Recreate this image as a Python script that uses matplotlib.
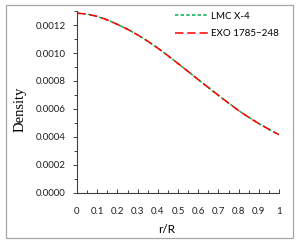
import matplotlib
matplotlib.use("Agg")
import matplotlib.pyplot as plt
from matplotlib.ticker import MultipleLocator, FormatStrFormatter
from matplotlib.patches import Rectangle

r = [0.0, 0.05, 0.1, 0.15, 0.2, 0.25, 0.3, 0.35, 0.4, 0.45, 0.5,
     0.55, 0.6, 0.65, 0.7, 0.75, 0.8, 0.85, 0.9, 0.95, 1.0]
lmc = [0.001285, 0.001279, 0.001262, 0.001237, 0.001205, 0.001170, 0.001130,
       0.001085, 0.001035, 0.000981, 0.000925, 0.000868, 0.000810, 0.000753,
       0.000697, 0.000642, 0.000588, 0.000540, 0.000495, 0.000454, 0.000415]
exo = [0.001285, 0.001279, 0.001262, 0.001237, 0.001205, 0.001170, 0.001130,
       0.001085, 0.001035, 0.000981, 0.000925, 0.000868, 0.000810, 0.000753,
       0.000697, 0.000642, 0.000588, 0.000540, 0.000495, 0.000454, 0.000415]
series_names = ["LMC X-4", "EXO 1785\u2212248"]
x_ticks = [0, 0.1, 0.2, 0.3, 0.4, 0.5, 0.6, 0.7, 0.8, 0.9, 1.0]
x_tick_labels = ['0', '0.1', '0.2', '0.3', '0.4', '0.5', '0.6', '0.7', '0.8', '0.9', '1']

plt.rcParams['font.family'] = ['Lato', 'DejaVu Sans']

fig = plt.figure(figsize=(3.0, 2.52), dpi=100)
fig.patches.append(Rectangle((6/300, 1-238/252), 287/300, 233/252,
                             transform=fig.transFigure, fill=False,
                             edgecolor='#a6a6a6', linewidth=0.9))
ax = fig.add_axes([77/300, 1-192.7/252, 202/300, (192.7-11.1)/252])

ax.plot(r, lmc, color='#00b050', linestyle=(0, (2.2, 1.5)), linewidth=1.1,
        label=series_names[0])
ax.plot(r, exo, color='#ff0000', linestyle=(0, (5.5, 2.5)), linewidth=1.1,
        label=series_names[1])

ax.set_xlim(0, 1)
ax.set_ylim(0, 0.0013)
ax.set_xticks(x_ticks)
ax.set_xticklabels(x_tick_labels)
ax.xaxis.set_minor_locator(MultipleLocator(0.05))
ax.yaxis.set_major_locator(MultipleLocator(0.0002))
ax.yaxis.set_minor_locator(MultipleLocator(0.0001))
ax.yaxis.set_major_formatter(FormatStrFormatter('%.4f'))

for s in ['top', 'right']:
    ax.spines[s].set_visible(False)
for s in ['left', 'bottom']:
    ax.spines[s].set_color('#404040')
    ax.spines[s].set_linewidth(0.8)

ax.tick_params(axis='x', which='both', direction='in', colors='#404040',
               labelcolor='#202020', labelsize=7, pad=10)
ax.tick_params(axis='x', which='major', length=3, width=0.7)
ax.tick_params(axis='x', which='minor', length=2, width=0.7)
ax.tick_params(axis='y', which='both', direction='out', colors='#404040',
               labelcolor='#202020', labelsize=7, pad=5)
ax.tick_params(axis='y', which='major', length=3, width=0.7)
ax.tick_params(axis='y', which='minor', length=2, width=0.7)

ax.set_xlabel('r/R', fontsize=8.5, va='center')
ax.xaxis.set_label_coords(0.446, -0.205)
ax.set_ylabel('Density', fontsize=10.5, family='Liberation Serif', va='center')
ax.yaxis.set_label_coords(-0.282, 0.46)

ax.legend(loc='upper right', bbox_to_anchor=(1.045, 1.045), frameon=False,
          fontsize=7, handlelength=3.4, handletextpad=0.3, labelspacing=0.9)

fig.savefig('out.png', dpi=100)
